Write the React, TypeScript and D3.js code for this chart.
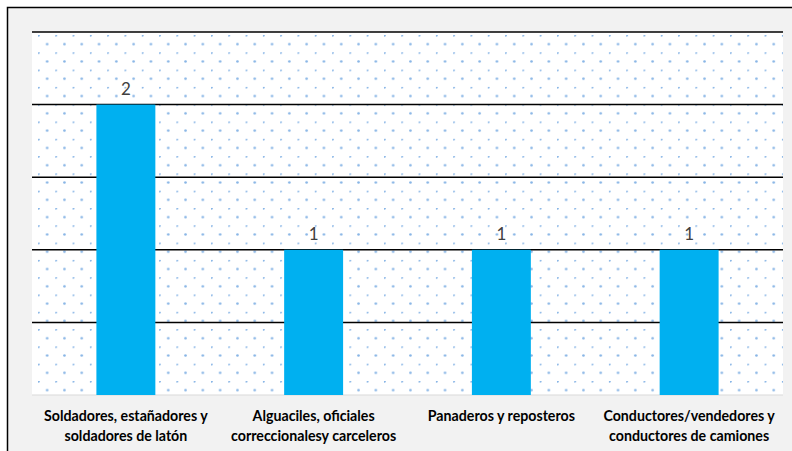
import React from "react";
import * as d3 from "d3";

const categories: string[][] = [
  ["Soldadores, estañadores y", "soldadores de latón"],
  ["Alguaciles, oficiales", "correccionalesy carceleros"],
  ["Panaderos y reposteros"],
  ["Conductores/vendedores y", "conductores de camiones"],
];
const values: number[] = [2, 1, 1, 1];
const ticks: number[] = [0, 0.5, 1, 1.5, 2, 2.5];

export default function App() {
  const W = 792, H = 451;
  const plot = { left: 32, right: 783, top: 32, bottom: 395 };
  const x = d3
    .scaleBand<number>()
    .domain(categories.map((_, i) => i))
    .range([plot.left, plot.right])
    .paddingInner(0.686)
    .paddingOuter(0.343);
  const y = d3.scaleLinear().domain([0, 2.5]).range([plot.bottom, plot.top]);
  const step = 17.3;
  return (
    <svg width={W} height={H} style={{ position: "absolute", left: 0, top: 0 }}>
      <defs>
        <pattern id="dots" patternUnits="userSpaceOnUse" width={step} height={step} x={38} y={35}>
          <rect width={step} height={step} fill="#ffffff" />
          <circle cx={0.5} cy={0.5} r={1.3} fill="#86b4e6" />
          <circle cx={step / 2 + 0.5} cy={step / 2 + 0.5} r={1.3} fill="#86b4e6" />
        </pattern>
      </defs>
      <rect x={0} y={0} width={W} height={H} fill="#ffffff" />
      <rect x={7.5} y={7.5} width={W} height={H} fill="#f2f2f2" stroke="#000" strokeWidth={1.5} />
      <rect
        x={plot.left}
        y={plot.top}
        width={plot.right - plot.left}
        height={plot.bottom - plot.top}
        fill="url(#dots)"
      />
      {ticks.slice(1).map((t) => (
        <line key={t} x1={plot.left} x2={plot.right} y1={y(t)} y2={y(t)} stroke="#000" strokeWidth={1.5} />
      ))}
      <line x1={plot.left} x2={plot.right} y1={plot.bottom} y2={plot.bottom} stroke="#d9d9d9" strokeWidth={1} />
      {values.map((v, i) => (
        <g key={i}>
          <rect
            x={x(i)!}
            y={y(v)}
            width={x.bandwidth()}
            height={y(0) - y(v)}
            fill="#00b0f0"
          />
          <text
            x={x(i)! + x.bandwidth() / 2}
            y={y(v) - 10}
            textAnchor="middle"
            fontFamily="Lato, 'Open Sans', sans-serif"
            fontSize={17}
            fill="#404040"
          >
            {v}
          </text>
          <text
            x={x(i)! + x.bandwidth() / 2}
            textAnchor="middle"
            fontFamily="Lato, 'Open Sans', sans-serif"
            fontSize={14.2}
            fontWeight="bold"
            fill="#000"
          >
            {categories[i].map((line, j) => (
              <tspan key={j} x={x(i)! + x.bandwidth() / 2} y={421 + j * 19.5}>
                {line}
              </tspan>
            ))}
          </text>
        </g>
      ))}
    </svg>
  );
}
